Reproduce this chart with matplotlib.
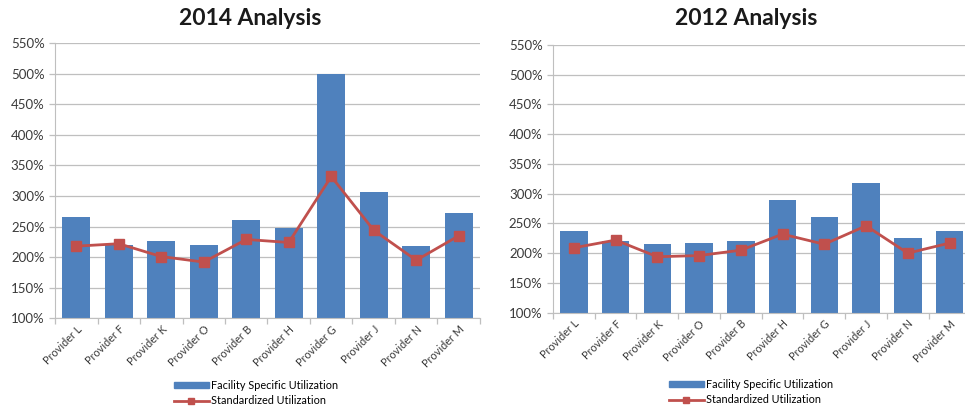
import matplotlib
matplotlib.use("Agg")
import matplotlib.pyplot as plt
from matplotlib.lines import Line2D
from matplotlib.patches import Patch
from matplotlib.ticker import FuncFormatter, MultipleLocator

plt.rcParams['font.family'] = ['Lato', 'DejaVu Sans']

providers_2014 = ["Provider L", "Provider F", "Provider K", "Provider O", "Provider B",
                  "Provider H", "Provider G", "Provider J", "Provider N", "Provider M"]
facility_2014 = [265, 220, 227, 220, 260, 247, 500, 307, 219, 273]
standard_2014 = [218, 222, 201, 192, 229, 224, 332, 244, 195, 235]

providers_2012 = ["Provider L", "Provider F", "Provider K", "Provider O", "Provider B",
                  "Provider H", "Provider G", "Provider J", "Provider N", "Provider M"]
facility_2012 = [238, 221, 215, 217, 220, 289, 261, 318, 225, 237]
standard_2012 = [209, 222, 194, 196, 205, 232, 215, 246, 200, 217]

BAR = "#4F81BD"
LINE = "#C0504D"
TXT = "#3a3a3a"

fig = plt.figure(figsize=(9.65, 4.07), dpi=100)


def draw(ax, cats, bars, line, title, title_x):
    x = range(len(cats))
    ax.bar(x, bars, width=0.66, bottom=0, color=BAR, zorder=2)
    ax.plot(x, line, color=LINE, lw=2, marker="s", ms=6.5, zorder=3)
    ax.set_ylim(100, 550)
    ax.set_xlim(-0.5, len(cats) - 0.5)
    ax.yaxis.set_major_locator(MultipleLocator(50))
    ax.yaxis.set_major_formatter(FuncFormatter(lambda v, p: f"{v:.0f}%"))
    ax.grid(axis="y", color="#BFBFBF", lw=0.9, zorder=0)
    for s in ("top", "right"):
        ax.spines[s].set_visible(False)
    ax.spines["left"].set_color("#BFBFBF")
    ax.spines["bottom"].set_color("#BFBFBF")
    ax.tick_params(axis="y", colors="#BFBFBF", labelcolor=TXT, labelsize=9.5, length=4, width=0.9)
    ax.set_xticks(list(x))
    ax.set_xticklabels(cats, rotation=45, ha="right", rotation_mode="anchor",
                       fontsize=7.8, color=TXT)
    ax.tick_params(axis="x", length=0, pad=4)
    ax.set_xticks([i + 0.5 for i in range(-1, len(cats))], minor=True)
    ax.tick_params(axis="x", which="minor", length=4, color="#BFBFBF", width=0.9)
    fig.text(title_x, 0.955, title, ha="center", va="center", fontsize=16.5, fontweight="bold",
             color="#1a1a1a")


ax1 = fig.add_axes([0.057, 0.218, 0.4404, 0.6757])
draw(ax1, providers_2014, facility_2014, standard_2014, "2014 Analysis", 250 / 965)

ax2 = fig.add_axes([0.573, 0.2318, 0.4326, 0.6577])
draw(ax2, providers_2012, facility_2012, standard_2012, "2012 Analysis", 746 / 965)

handles = [Patch(facecolor=BAR, edgecolor=BAR),
           Line2D([0], [0], color=LINE, lw=2, marker="s", ms=5)]
labels = ["Facility Specific Utilization", "Standardized Utilization"]
for cx, cy in ((256 / 965, 1 - 393 / 407), (751 / 965, 1 - 392 / 407)):
    fig.legend(handles, labels, loc="center", bbox_to_anchor=(cx, cy), frameon=False,
               fontsize=7.8, handlelength=3.2, handleheight=0.5, handletextpad=0.2,
               labelspacing=0.4, borderpad=0)

fig.savefig("out.png", dpi=100)
